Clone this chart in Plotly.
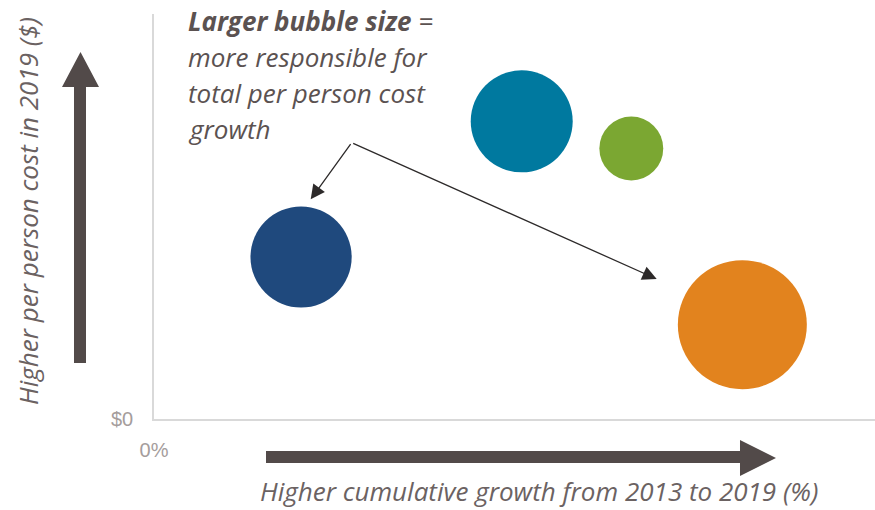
import plotly.graph_objects as go

# ======================================
# DATA
# ======================================

growth_pct = [10.2, 25.5, 33.1, 40.8]          # cumulative growth 2013-2019 (%)
cost_2019 = [4000, 7350, 6680, 2330]           # per person cost in 2019 ($)
share_growth = [25.6, 26.0, 10.2, 41.6]        # share of total cost growth (bubble area)
bubble_colors = ["#1f497d", "#00799f", "#7ba732", "#e2831e"]

x_tick_vals = [0]
x_tick_text = ["0%"]
y_tick_vals = [0]
y_tick_text = ["$0"]

# ======================================
# LAYOUT HELPERS (pixel -> paper)
# ======================================

W, H = 875, 510
L, R, T, B = 154, 0, 14, 91
PW, PH = W - L - R, H - T - B


def px(x):
    return (x - L) / PW


def py(y):
    return (H - B - y) / PH


def poly(points):
    s = "M " + " L ".join(f"{px(x):.5f},{py(y):.5f}" for x, y in points)
    return s + " Z"


TEXT = "#5b5251"
ARROW = "#524a49"
FONT = "Open Sans"

fig = go.Figure()

# =========================
# BUBBLES
# =========================

fig.add_trace(go.Scatter(
    x=growth_pct,
    y=cost_2019,
    mode="markers",
    marker=dict(
        size=share_growth,
        sizemode="area",
        sizeref=0.005,
        color=bubble_colors,
        opacity=1,
        line=dict(width=0)
    ),
    hoverinfo="x+y",
    showlegend=False
))

# =========================
# BIG DIRECTION ARROWS
# =========================

up_arrow = [(74, 363), (86, 363), (86, 87), (99, 87), (80.5, 52), (62, 87), (74, 87)]
right_arrow = [(266, 451), (740, 451), (740, 440), (776, 458), (740, 476), (740, 463), (266, 463)]

for pts in (up_arrow, right_arrow):
    fig.add_shape(
        type="path", path=poly(pts), xref="paper", yref="paper",
        fillcolor=ARROW, line=dict(width=0), layer="above"
    )

# =========================
# CALLOUT TEXT
# =========================

callout = [
    ("<b>Larger bubble size</b> =", 21),
    ("more responsible for", 57),
    ("total per person cost", 93),
    ("growth", 129),
]
for txt, ypix in callout:
    fig.add_annotation(
        x=px(186), y=py(ypix), xref="paper", yref="paper",
        text=f"<i>{txt}</i>", showarrow=False,
        xanchor="left", yanchor="middle",
        font=dict(family=FONT, size=26, color=TEXT)
    )

# callout pointers
corner = (351.7, 142.7)
for tip in [(310.7, 199.3), (656.7, 279)]:
    fig.add_annotation(
        x=px(tip[0]), y=py(tip[1]), xref="paper", yref="paper",
        ax=corner[0] - tip[0], ay=corner[1] - tip[1],
        showarrow=True, arrowhead=2, arrowsize=2.2, arrowwidth=1.3,
        arrowcolor="#2d2a2a", standoff=0, text=""
    )

# =========================
# AXIS TITLES
# =========================

fig.add_annotation(
    x=px(28), y=py(211), xref="paper", yref="paper",
    text="<i>Higher per person cost in 2019 ($)</i>", showarrow=False,
    textangle=-90, xanchor="center", yanchor="middle",
    font=dict(family=FONT, size=26, color="#6b6262")
)
fig.add_annotation(
    x=px(539), y=py(491), xref="paper", yref="paper",
    text="<i>Higher cumulative growth from 2013 to 2019 (%)</i>", showarrow=False,
    xanchor="center", yanchor="middle",
    font=dict(family=FONT, size=26, color="#6b6262")
)

# =========================
# STYLE
# =========================

fig.update_layout(
    width=W, height=H,
    margin=dict(l=L, r=R, t=T, b=B),
    paper_bgcolor="white",
    plot_bgcolor="white",
    xaxis=dict(
        range=[0, 50], showgrid=False, zeroline=False,
        showline=True, linecolor="#d9d9d9", linewidth=1.5,
        tickvals=x_tick_vals, ticktext=x_tick_text,
        ticks="outside", ticklen=12, tickcolor="rgba(0,0,0,0)",
        tickfont=dict(family="Liberation Sans", size=20, color="#a59d9c")
    ),
    yaxis=dict(
        range=[0, 10000], showgrid=False, zeroline=False,
        showline=True, linecolor="#d9d9d9", linewidth=1.5,
        tickvals=y_tick_vals, ticktext=y_tick_text,
        ticks="outside", ticklen=15, tickcolor="rgba(0,0,0,0)",
        tickfont=dict(family="Liberation Sans", size=20, color="#a59d9c")
    )
)

fig.write_html(
    "out.html",
    config={"displayModeBar": False},
    post_script="document.body.style.margin='0';document.body.style.overflow='hidden';"
)
